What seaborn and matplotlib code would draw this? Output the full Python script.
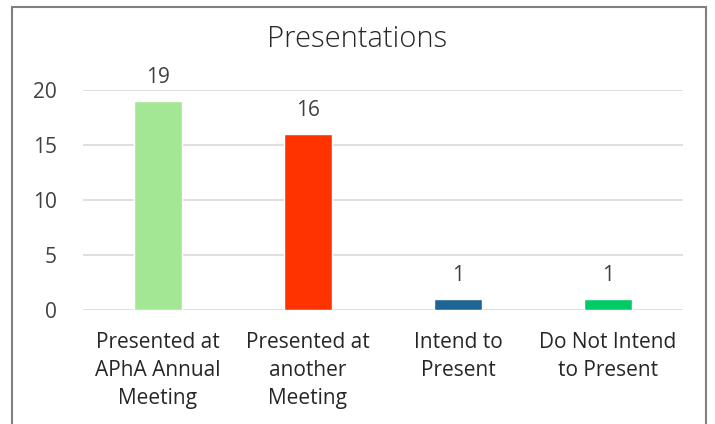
import matplotlib
matplotlib.use("Agg")
import matplotlib.pyplot as plt
import seaborn as sns
import pandas as pd
from matplotlib.patches import Rectangle

categories = ["Presented at\nAPhA Annual\nMeeting", "Presented at\nanother\nMeeting",
              "Intend to\nPresent", "Do Not Intend\nto Present"]
values = [19, 16, 1, 1]
colors = ["#A3E794", "#FF3300", "#1F6496", "#00CC66"]
yticks = [0, 5, 10, 15, 20]
title = "Presentations"

sns.set_theme(style="white")
plt.rcParams["font.family"] = ["Open Sans", "DejaVu Sans"]
text_color = "#404040"

df = pd.DataFrame({"cat": categories, "val": values})

fig = plt.figure(figsize=(7.15, 4.24), dpi=100)
ax = fig.add_axes([83/715, 1-310/424, 600/715, 220/424])

sns.barplot(data=df, x="cat", y="val", hue="cat", palette=colors, legend=False,
            width=0.32, ax=ax, saturation=1)

ax.set_ylim(0, 20)
ax.set_yticks(yticks)
ax.yaxis.grid(True, color="#D9D9D9", linewidth=1.2)
ax.set_axisbelow(True)
for s in ax.spines.values():
    s.set_visible(False)
ax.set_xlabel("")
ax.set_ylabel("")
ax.tick_params(axis="both", length=0, labelsize=15, labelcolor=text_color)
ax.tick_params(axis="y", pad=19)
ax.tick_params(axis="x", pad=16)
for lbl in ax.get_xticklabels():
    lbl.set_linespacing(1.42)
    lbl.set_color("#262626")

for c in ax.containers:
    ax.bar_label(c, padding=9.5, fontsize=15, color=text_color)

fig.text(0.5, 1-39/424, title, ha="center", va="center", fontsize=21,
         color="#262626", fontweight="light")

fig.add_artist(Rectangle((12/715, -0.05), 694/715, 1-7/424+0.05, transform=fig.transFigure,
                         fill=False, edgecolor="#7F7F7F", linewidth=1.5))

fig.savefig("out.png", dpi=100, facecolor="white")
